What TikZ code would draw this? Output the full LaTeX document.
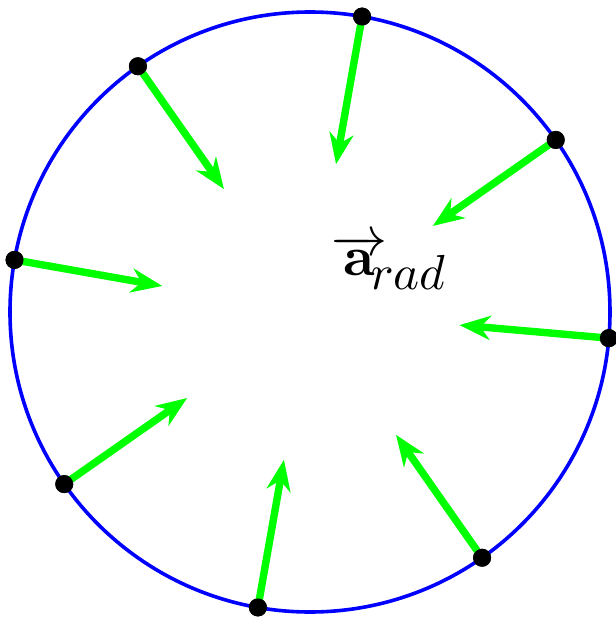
\documentclass[tikz,border=0pt]{standalone}
\usepackage{graphicx}
\usetikzlibrary{arrows.meta}
\begin{document}
\begin{tikzpicture}[x=0.5pt,y=0.5pt,
  rim/.style={draw=blue,line width=1.8pt},
  dot/.style={circle,fill=black,inner sep=0pt,minimum size=9pt},
  accel/.style={draw={rgb,255:red,0;green,255;blue,0},line width=3.7pt,-{Stealth[length=15.5pt,width=12pt,inset=5pt]}}]
\useasboundingbox (-310,-311) rectangle (306,312);
\node[circle,rim,minimum size=300pt,inner sep=0pt] (rimc) at (0,0) {};
\foreach \i/\a in {1/80,2/35,3/-5,4/-55,5/-100,6/-145,7/170,8/125}{
  \node[dot] (p\i) at (\a:300) {};
  \coordinate (e\i) at (\a:150);
  \draw[accel] (p\i.center) -- (e\i);
  \node[dot] at (p\i) {};
}
\node[scale=2.8,inner sep=0pt,anchor=base west] (lab) at (20,37) {$\overrightarrow{\,\mathbf{a}\,}\mkern-5.5mu_{\scalebox{0.88}{$rad$}}$};
\end{tikzpicture}
\end{document}
